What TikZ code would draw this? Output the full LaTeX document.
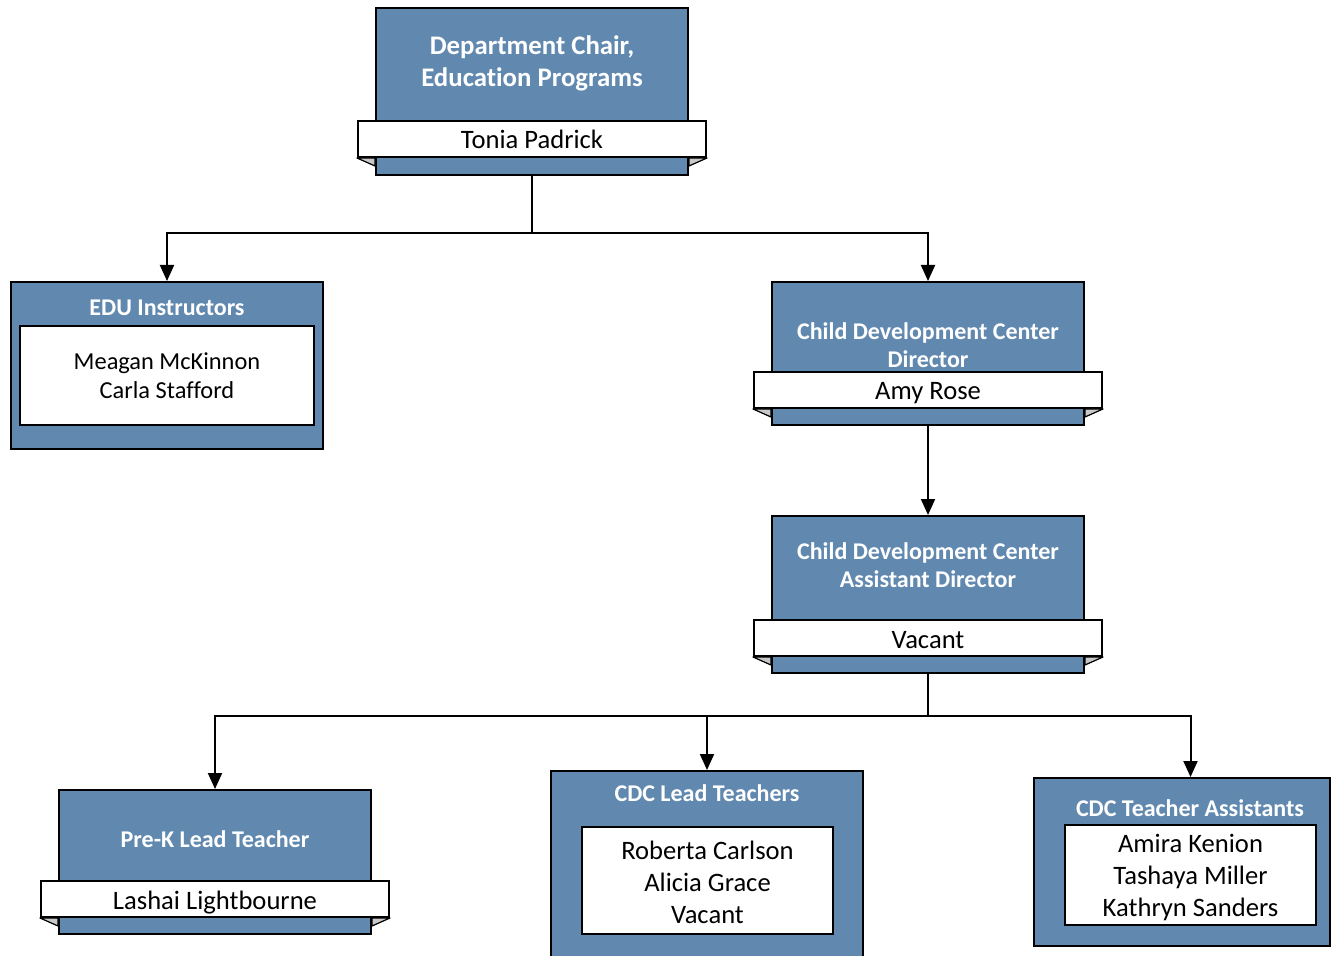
\documentclass[tikz,border=0pt]{standalone}
\usepackage{fontspec}
\setmainfont{Carlito}[Ligatures=NoCommon]
\usetikzlibrary{arrows.meta}
\definecolor{unitblue}{RGB}{97,137,176}
\definecolor{foldgray}{RGB}{200,200,200}

\begin{document}
\begin{tikzpicture}[x=0.5pt,y=-0.5pt,
  unit/.style={draw=black, fill=unitblue, line width=1pt, inner sep=0pt, minimum width=156pt},
  namebar/.style={draw=black, fill=white, line width=1pt, inner sep=0pt, minimum width=174pt, minimum height=18pt, text depth=2pt, text height=12pt, font=\fontsize{13.3}{16}\selectfont},
  namebox/.style={draw=black, fill=white, line width=1pt, inner sep=0pt, align=center, font=\fontsize{13.3}{16}\selectfont},
  title/.style={text=white, align=center, inner sep=0pt, font=\bfseries\fontsize{12}{14}\selectfont},
  fold/.style={draw=black, fill=foldgray, line width=0.6pt, line join=round},
  link/.style={line width=1pt},
  arr/.style={link, -{Triangle[width=7pt,length=8pt]}}
]
		\useasboundingbox (0,0) rectangle (1331,956);
		\clip (0,0) rectangle (1331,956);
		% department chair
		\node[unit, minimum height=83.5pt] (chair) at (532,91.5) {};
		\node[title, font=\bfseries\fontsize{13.4}{16}\selectfont] (chairtitle) at (532,63) {Department Chair,\\Education Programs};
		\node[namebar] (chairname) at (532,139) {Tonia Padrick};
		\filldraw[fold] (chairname.south west) -- (chair.west |- chairname.south) -- ++(0,8) -- cycle;
		\filldraw[fold] (chairname.south east) -- (chair.east |- chairname.south) -- ++(0,8) -- cycle;
		% instructors
		\node[unit, minimum height=83.5pt] (edu) at (167,365.5) {};
		\node[title] (edutitle) at (167,308) {EDU Instructors};
		\node[namebox, minimum width=147pt, minimum height=49.5pt, font=\fontsize{12.2}{14.5}\selectfont] (edunames) at (167,375.5) {Meagan McKinnon\\Carla Stafford};
		% center director
		\node[unit, minimum height=71.5pt] (cdcdir) at (928,353.5) {};
		\node[title] (dirtitle) at (928,345) {Child Development Center\\Director};
		\node[namebar] (dirname) at (928,390) {Amy Rose};
		\filldraw[fold] (dirname.south west) -- (cdcdir.west |- dirname.south) -- ++(0,8) -- cycle;
		\filldraw[fold] (dirname.south east) -- (cdcdir.east |- dirname.south) -- ++(0,8) -- cycle;
		% assistant director
		\node[unit, minimum height=78.5pt] (asst) at (928,594.5) {};
		\node[title] (assttitle) at (928,565) {Child Development Center\\Assistant Director};
		\node[namebar] (asstname) at (928,638) {Vacant};
		\filldraw[fold] (asstname.south west) -- (asst.west |- asstname.south) -- ++(0,8) -- cycle;
		\filldraw[fold] (asstname.south east) -- (asst.east |- asstname.south) -- ++(0,8) -- cycle;
		% pre-k
		\node[unit, minimum height=72pt] (prek) at (215,862) {};
		\node[title] (prektitle) at (215,839) {Pre-K Lead Teacher};
		\node[namebar] (prekname) at (215,899) {Lashai Lightbourne};
		\filldraw[fold] (prekname.south west) -- (prek.west |- prekname.south) -- ++(0,8) -- cycle;
		\filldraw[fold] (prekname.south east) -- (prek.east |- prekname.south) -- ++(0,8) -- cycle;
		% lead teachers
		\node[unit, minimum height=100pt] (lead) at (707,871) {};
		\node[title] (leadtitle) at (707,793) {CDC Lead Teachers};
		\node[namebox, minimum width=125.5pt, minimum height=53.5pt] (leadnames) at (707.5,880.5) {\strut Roberta Carlson\\Alicia Grace\\Vacant};
		% teacher assistants
		\node[unit, minimum width=148pt, minimum height=84pt] (ta) at (1182,862) {};
		\node[title] (tatitle) at (1190,808) {CDC Teacher Assistants};
		\node[namebox, minimum width=125.5pt, minimum height=50pt] (tanames) at (1190.5,875) {\strut Amira Kenion\\Tashaya Miller\\Kathryn Sanders};
		% connectors
		\coordinate (split1) at (532,233);
		\draw[link] (chair.south) -- (split1);
		\draw[arr] (split1) -| (edu.north);
		\draw[arr] (split1) -| (cdcdir.north);
		\draw[arr] (cdcdir.south) -- (asst.north);
		\coordinate (split2) at (928,716);
		\draw[link] (asst.south) -- (split2);
		\draw[arr] (split2) -| (prek.north);
		\draw[arr] (split2) -| (lead.north);
		\draw[arr] (split2) -| (tanames.north |- ta.north);
\end{tikzpicture}
\end{document}
